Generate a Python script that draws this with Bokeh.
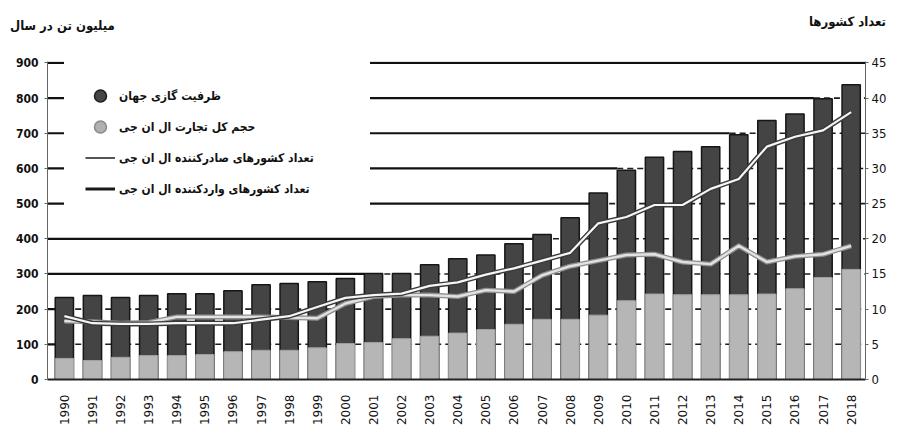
import math
from bokeh.plotting import figure
from bokeh.layouts import column
from bokeh.models import Range1d, LinearAxis, FixedTicker, Legend, LegendItem, Div
from bokeh.embed import file_html
from bokeh.resources import INLINE

# ---- data ----
years = [str(y) for y in range(1990, 2019)]
capacity = [233, 239, 233, 239, 244, 244, 252, 269, 273, 278, 287, 301, 301, 326,
            343, 354, 386, 412, 460, 530, 595, 632, 648, 662, 696, 736, 755, 798, 838]
trade = [60, 54, 63, 68, 68, 71, 79, 83, 83, 90, 102, 105, 116, 123,
         132, 142, 157, 171, 171, 183, 224, 243, 241, 241, 241, 243, 258, 290, 313]
importers = [9.0, 8.0, 7.9, 7.9, 8.0, 8.0, 8.0, 8.5, 9.0, 10.3, 11.6, 12.0, 12.2, 13.3,
             13.8, 14.9, 15.8, 16.9, 18.0, 22.2, 23.1, 24.8, 24.8, 27.1, 28.5, 33.1, 34.5, 35.4, 38.0]
exporters = [8.3, 8.2, 8.0, 8.1, 8.9, 8.9, 8.9, 8.9, 8.8, 8.7, 10.8, 11.8, 12.0, 12.0,
             11.8, 12.7, 12.5, 14.8, 16.1, 16.9, 17.7, 17.8, 16.7, 16.4, 19.0, 16.7, 17.5, 17.8, 19.0]
left_ticks = list(range(0, 1000, 100))
right_ticks = list(range(0, 50, 5))

label_capacity = "ظرفیت گازی جهان"
label_trade = "حجم کل تجارت ال ان جی"
label_exporters = "تعداد کشورهای صادرکننده ال ان جی"
label_importers = "تعداد کشورهای واردکننده ال ان جی"
title_left = "میلیون تن در سال"
title_right = "تعداد کشورها"

FONT = "DejaVu Sans"
FONT_C = "DejaVu Sans Condensed"
W = 889
HEAD_H = 53
MAIN_H = 375

# ---- header with the two axis titles ----
head_html = (
    '<div style="position:relative;width:%dpx;height:%dpx;font-family:\'DejaVu Sans Condensed\';'
    'font-weight:bold;font-size:13px;color:#111;line-height:16px;">'
    '<span dir="rtl" style="position:absolute;left:10px;top:18px;white-space:nowrap;">%s</span>'
    '<span dir="rtl" style="position:absolute;right:3px;top:14px;white-space:nowrap;">%s</span>'
    '</div>' % (W, HEAD_H, title_left, title_right)
)
head = Div(text=head_html, width=W, height=HEAD_H, margin=0)

# ---- main figure ----
x = list(range(len(years)))
X0, X1 = -0.6, 28.51
Y1 = 904
BW = 0.65

p = figure(width=W, height=MAIN_H, x_range=Range1d(X0, X1), y_range=Range1d(0, Y1),
           output_backend="svg", toolbar_location=None,
           min_border_left=47, min_border_right=21, min_border_top=8, min_border_bottom=41)
p.xgrid.visible = False
p.ygrid.visible = False
p.outline_line_color = None
p.extra_y_ranges = {"n": Range1d(0, Y1 / 20.0)}

# custom grid lines: solid until the bars rise past them, dashed after
s_x0, s_x1, s_y, d_x0, d_x1, d_y = [], [], [], [], [], []
for L in left_ticks[1:]:
    k = next((i for i, c in enumerate(capacity) if c > L - 10), None)
    end = X1 if k is None else k - BW / 2
    s_x0.append(X0); s_x1.append(end); s_y.append(L)
    if k is not None:
        d_x0.append(end); d_x1.append(X1); d_y.append(L)
p.segment(x0=d_x0, x1=d_x1, y0=d_y, y1=d_y, line_color="#1e1e1e", line_width=1.6, line_dash="6 4")
p.segment(x0=s_x0, x1=s_x1, y0=s_y, y1=s_y, line_color="#111111", line_width=2.2)

# bars
p.vbar(x=x, top=capacity, width=BW, bottom=0, fill_color="#444444",
       line_color="#161616", line_width=1.5)
p.vbar(x=x, top=trade, width=BW, bottom=0, fill_color="#b6b6b6",
       line_color="#a0a0a0", line_width=1)

# legend-only glyphs (zero size / hidden under the visible lines)
lg_cap = p.scatter(x=x, y=capacity, size=0, marker="circle", fill_color="#454545",
                   line_color="#1e1e1e", line_width=1.5)
lg_trade = p.scatter(x=x, y=trade, size=0, marker="circle", fill_color="#b0b0b0",
                     line_color="#8a8a8a", line_width=1.5)
lg_exp = p.line(x, exporters, y_range_name="n", line_color="#555555", line_width=2)
lg_imp = p.line(x, importers, y_range_name="n", line_color="#1a1a1a", line_width=3)

# lines on the right axis
p.line(x, exporters, y_range_name="n", line_color="#8e8e8e", line_width=5, line_join="round")
p.line(x, exporters, y_range_name="n", line_color="#e2e2e2", line_width=2.4, line_join="round")
p.line(x, importers, y_range_name="n", line_color="#3a3a3a", line_width=5, line_join="round")
p.line(x, importers, y_range_name="n", line_color="#f6f6f6", line_width=2.2, line_join="round")

# axes
p.yaxis.ticker = FixedTicker(ticks=left_ticks)
p.yaxis.major_label_text_font = FONT_C
p.yaxis.major_label_text_font_style = "bold"
p.yaxis.major_label_text_font_size = "12px"
p.yaxis.major_label_text_color = "#111111"
p.yaxis.axis_line_color = "#666666"
p.yaxis.major_tick_line_color = "#666666"
p.yaxis.major_tick_out = 3
p.yaxis.major_tick_in = 0
p.yaxis.minor_tick_line_color = None
p.yaxis.major_label_standoff = 6

ax_r = LinearAxis(y_range_name="n", ticker=FixedTicker(ticks=right_ticks))
ax_r.major_label_text_font = FONT_C
ax_r.major_label_text_font_size = "13px"
ax_r.major_label_text_color = "#111111"
ax_r.axis_line_color = "#666666"
ax_r.major_tick_line_color = "#666666"
ax_r.major_tick_out = 3
ax_r.major_tick_in = 0
ax_r.minor_tick_line_color = None
ax_r.major_label_standoff = 3
p.add_layout(ax_r, "right")

p.xaxis.ticker = FixedTicker(ticks=x)
p.xaxis.major_label_overrides = {i: y for i, y in zip(x, years)}
p.xaxis.major_label_orientation = math.pi / 2
p.xaxis.major_label_text_font = FONT
p.xaxis.major_label_text_font_size = "12px"
p.xaxis.major_label_text_color = "#111111"
p.xaxis.major_tick_line_color = None
p.xaxis.minor_tick_line_color = None
p.xaxis.axis_line_color = "#222222"
p.xaxis.axis_line_width = 2
p.xaxis.major_label_standoff = 9

# legend (border colour set so that padding is applied; drawn white)
legend = Legend(items=[LegendItem(label=label_capacity, renderers=[lg_cap]),
                       LegendItem(label=label_trade, renderers=[lg_trade]),
                       LegendItem(label=label_exporters, renderers=[lg_exp]),
                       LegendItem(label=label_importers, renderers=[lg_imp])],
                location=(17, 154), padding=20, spacing=0, margin=0,
                glyph_height=31, glyph_width=30, label_standoff=4, label_width=230,
                background_fill_color="white", background_fill_alpha=1.0,
                border_line_color="white", border_line_alpha=1.0,
                label_text_font=FONT_C, label_text_font_style="bold",
                label_text_font_size="12px", label_text_color="#111111")
p.add_layout(legend)

layout = column(head, p, spacing=0)
open("out.html", "w").write(file_html(layout, INLINE))
